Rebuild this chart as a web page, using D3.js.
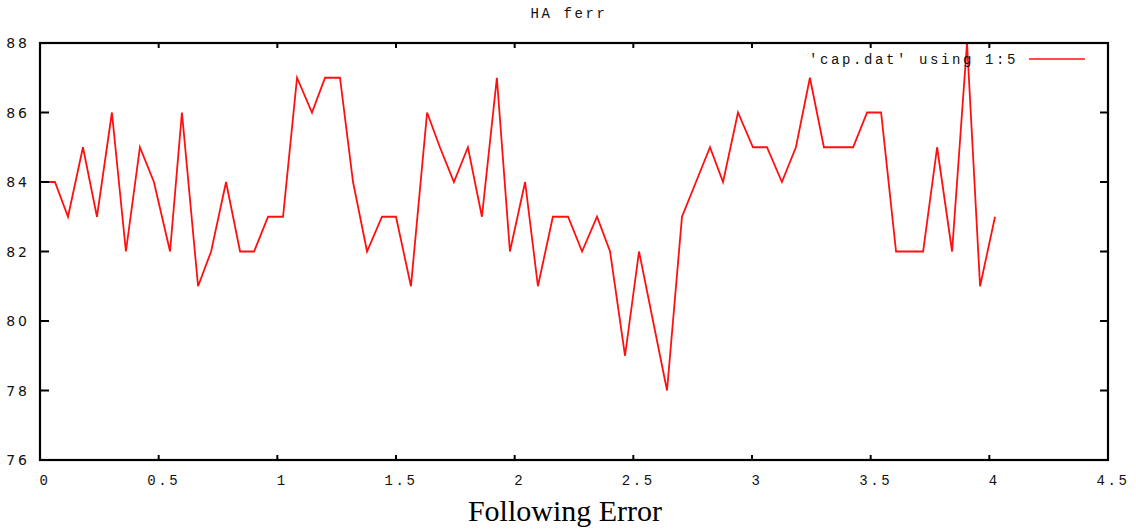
<!DOCTYPE html>
<html>
<head>
<meta charset="utf-8">
<script src="https://cdn.jsdelivr.net/npm/d3@7"></script>
<style>
  body { margin: 0; background: #fff; }
  svg { display: block; }
  .mono { font-family: "Liberation Mono", "DejaVu Sans Mono", monospace; font-size: 14px; letter-spacing: 2.6px; fill: #111; }
  .ylab { font-family: "DejaVu Sans", sans-serif; font-size: 14px; letter-spacing: 3px; fill: #111; }
</style>
</head>
<body>
<svg width="1136" height="531"></svg>
<script>
// time (column 1) and following error (column 5) from cap.dat
const xs = [0, 0.063, 0.118, 0.181, 0.240, 0.303, 0.362, 0.421, 0.480, 0.548,
  0.598, 0.666, 0.721, 0.784, 0.843, 0.902, 0.961, 1.024, 1.083, 1.146,
  1.201, 1.264, 1.319, 1.378, 1.441, 1.500, 1.563, 1.631, 1.685, 1.744,
  1.803, 1.862, 1.925, 1.980, 2.044, 2.098, 2.161, 2.225, 2.284, 2.347,
  2.402, 2.465, 2.524, 2.583, 2.642, 2.705, 2.764, 2.823, 2.878, 2.941,
  3.004, 3.063, 3.126, 3.185, 3.244, 3.303, 3.367, 3.426, 3.485, 3.544,
  3.607, 3.666, 3.721, 3.780, 3.843, 3.906, 3.961, 4.024];
const ys = [84, 84, 83, 85, 83, 86, 82, 85, 84, 82,
  86, 81, 82, 84, 82, 82, 83, 83, 87, 86,
  87, 87, 84, 82, 83, 83, 81, 86, 85, 84,
  85, 83, 87, 82, 84, 81, 83, 83, 82, 83,
  82, 79, 82, 80, 78, 83, 84, 85, 84, 86,
  85, 85, 84, 85, 87, 85, 85, 85, 86, 86,
  82, 82, 82, 85, 82, 88, 81, 83];
const xTicks = [0, 0.5, 1, 1.5, 2, 2.5, 3, 3.5, 4, 4.5];
const yTicks = [76, 78, 80, 82, 84, 86, 88];
const title = "HA ferr";
const legendLabel = "'cap.dat' using 1:5";
const xTitle = "Following Error";

const svg = d3.select("svg");
const plotL = 40, plotR = 1108, plotT = 43, plotB = 460;

var x = d3.scaleLinear().domain([0, 4.5]).range([plotL, plotR]);
var y = d3.scaleLinear().domain([76, 88]).range([plotB, plotT]);

// data line
const pts = xs.map((d, i) => [d, ys[i]]);
var line = d3.line().x((d) => x(d[0])).y((d) => y(d[1]));
svg.append("path")
  .datum(pts)
  .attr("d", line)
  .attr("fill", "none")
  .attr("stroke", "#ff1010")
  .attr("stroke-width", 1.8)
  .attr("stroke-linejoin", "miter");

// gnuplot style ticks, inward on all four sides
const axes = svg.append("g").attr("stroke", "#000").attr("stroke-width", 2);
axes.selectAll("line.yl").data(yTicks).enter().append("line")
  .attr("x1", plotL).attr("x2", plotL + 9)
  .attr("y1", (d) => y(d)).attr("y2", (d) => y(d));
axes.selectAll("line.yr").data(yTicks).enter().append("line")
  .attr("x1", plotR).attr("x2", plotR - 8)
  .attr("y1", (d) => y(d)).attr("y2", (d) => y(d));
axes.selectAll("line.xb").data(xTicks).enter().append("line")
  .attr("x1", (d) => x(d)).attr("x2", (d) => x(d))
  .attr("y1", plotB).attr("y2", plotB - 5);
axes.selectAll("line.xt").data(xTicks).enter().append("line")
  .attr("x1", (d) => x(d)).attr("x2", (d) => x(d))
  .attr("y1", plotT).attr("y2", plotT + 5);

// frame
svg.append("rect")
  .attr("x", plotL).attr("y", plotT)
  .attr("width", plotR - plotL).attr("height", plotB - plotT)
  .attr("fill", "none").attr("stroke", "#000").attr("stroke-width", 2.2);

// tick labels
svg.append("g").selectAll("text").data(yTicks).enter().append("text")
  .attr("class", "ylab")
  .attr("x", 30).attr("y", (d) => y(d) + 5)
  .attr("text-anchor", "end")
  .text((d) => d);
svg.append("g").selectAll("text").data(xTicks).enter().append("text")
  .attr("class", "mono")
  .attr("x", (d) => x(d) + 5).attr("y", 485)
  .attr("text-anchor", "middle")
  .text((d) => d);

// title
svg.append("text").attr("class", "mono")
  .attr("x", 569).attr("y", 18).attr("text-anchor", "middle")
  .text(title);

// legend
svg.append("text").attr("class", "mono")
  .attr("x", 1018).attr("y", 64).attr("text-anchor", "end")
  .text(legendLabel);
svg.append("line")
  .attr("x1", 1029).attr("x2", 1085).attr("y1", 59).attr("y2", 59)
  .attr("stroke", "#ff1010").attr("stroke-width", 1.6);

// x axis title
svg.append("text")
  .attr("x", 565).attr("y", 521).attr("text-anchor", "middle")
  .attr("font-family", "'Liberation Serif', 'Times New Roman', serif")
  .attr("font-size", 30).attr("fill", "#000")
  .text(xTitle);
</script>
</body>
</html>
